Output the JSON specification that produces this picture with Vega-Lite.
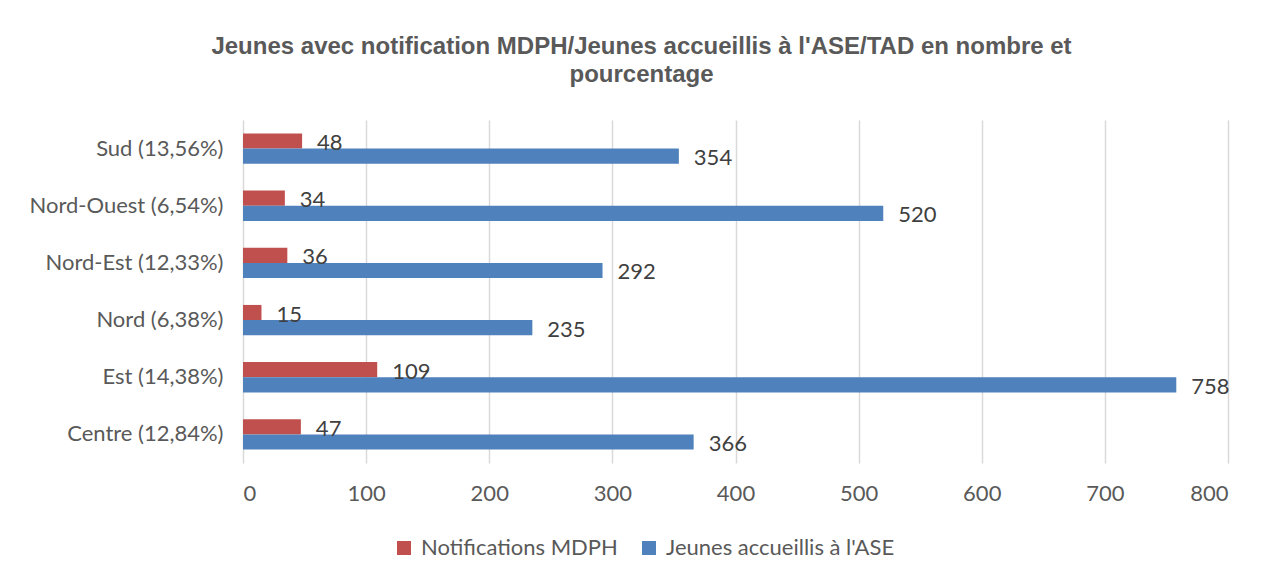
{
  "$schema": "https://vega.github.io/schema/vega-lite/v6.json",
  "width": 985,
  "height": 343,
  "autosize": {"type": "none"},
  "padding": {"left": 243, "top": 120, "right": 35, "bottom": 116},
  "background": "white",
  "config": {"view": {"stroke": null}},
  "title": {
    "text": ["Jeunes avec notification MDPH/Jeunes accueillis à l'ASE/TAD en nombre et", "pourcentage"],
    "font": "Liberation Sans",
    "fontSize": 24,
    "fontWeight": "bold",
    "color": "#595959",
    "anchor": "middle",
    "dx": -94,
    "offset": 33,
    "lineHeight": 28
  },
  "data": {
    "values": [
      {"region": "Sud (13,56%)", "serie": "Notifications MDPH", "valeur": 48},
      {"region": "Sud (13,56%)", "serie": "Jeunes accueillis à l'ASE", "valeur": 354},
      {"region": "Nord-Ouest (6,54%)", "serie": "Notifications MDPH", "valeur": 34},
      {"region": "Nord-Ouest (6,54%)", "serie": "Jeunes accueillis à l'ASE", "valeur": 520},
      {"region": "Nord-Est (12,33%)", "serie": "Notifications MDPH", "valeur": 36},
      {"region": "Nord-Est (12,33%)", "serie": "Jeunes accueillis à l'ASE", "valeur": 292},
      {"region": "Nord (6,38%)", "serie": "Notifications MDPH", "valeur": 15},
      {"region": "Nord (6,38%)", "serie": "Jeunes accueillis à l'ASE", "valeur": 235},
      {"region": "Est (14,38%)", "serie": "Notifications MDPH", "valeur": 109},
      {"region": "Est (14,38%)", "serie": "Jeunes accueillis à l'ASE", "valeur": 758},
      {"region": "Centre (12,84%)", "serie": "Notifications MDPH", "valeur": 47},
      {"region": "Centre (12,84%)", "serie": "Jeunes accueillis à l'ASE", "valeur": 366}
    ]
  },
  "encoding": {
    "y": {
      "field": "region",
      "type": "nominal",
      "sort": ["Sud (13,56%)", "Nord-Ouest (6,54%)", "Nord-Est (12,33%)", "Nord (6,38%)", "Est (14,38%)", "Centre (12,84%)"],
      "scale": {"paddingInner": 0.47, "paddingOuter": 0.235},
      "axis": {
        "title": null,
        "domain": false,
        "ticks": false,
        "grid": false,
        "labelFont": "Lato",
        "labelFontSize": 22,
        "labelColor": "#595959",
        "labelPadding": 20,
        "labelLimit": 0
      }
    },
    "yOffset": {
      "field": "serie",
      "type": "nominal",
      "sort": ["Notifications MDPH", "Jeunes accueillis à l'ASE"],
      "scale": {"paddingInner": 0, "paddingOuter": 0}
    },
    "x": {
      "field": "valeur",
      "type": "quantitative",
      "scale": {"domain": [0, 800], "nice": false},
      "axis": {
        "title": null,
        "values": [0, 100, 200, 300, 400, 500, 600, 700, 800],
        "domain": false,
        "ticks": false,
        "grid": true,
        "gridColor": "#d9d9d9",
        "gridWidth": 1.5,
        "labelFont": "Lato",
        "labelFontSize": 22,
        "labelColor": "#595959",
        "labelPadding": 20
      }
    }
  },
  "layer": [
    {
      "mark": {"type": "bar"},
      "encoding": {
        "color": {
          "field": "serie",
          "type": "nominal",
          "sort": ["Notifications MDPH", "Jeunes accueillis à l'ASE"],
          "scale": {"domain": ["Notifications MDPH", "Jeunes accueillis à l'ASE"], "range": ["#C0504D", "#4F81BD"]},
          "legend": {
            "title": null,
            "orient": "none",
            "direction": "horizontal",
            "legendX": 150,
            "legendY": 417,
            "symbolType": "square",
            "symbolSize": 196,
            "symbolStrokeWidth": 0,
            "labelFont": "Lato",
            "labelFontSize": 22,
            "labelColor": "#595959",
            "labelLimit": 0,
            "columnPadding": 20,
            "labelOffset": 6
          }
        }
      }
    },
    {
      "mark": {"type": "text", "align": "left", "baseline": "middle", "dx": 15, "dy": 2, "font": "Lato", "fontSize": 22, "color": "#404040"},
      "encoding": {
        "text": {"field": "valeur", "type": "quantitative"}
      }
    }
  ]
}
